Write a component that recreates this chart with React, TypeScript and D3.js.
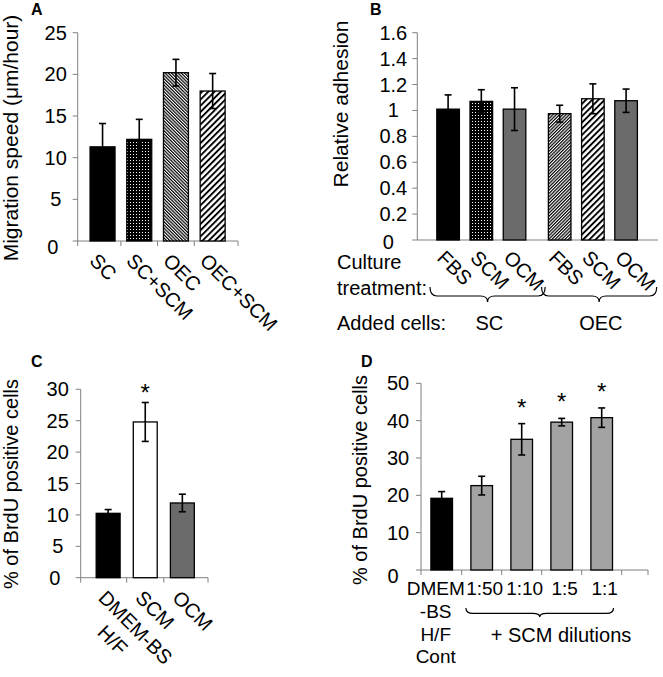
import React from "react";
import * as d3 from "d3";

const FONT = "'Liberation Sans', Arial, Helvetica, sans-serif";

// ---------- Data ----------
// Panel A: migration speed
const aCategories = ["SC", "SC+SCM", "OEC", "OEC+SCM"];
const aValues = [11.3, 12.2, 20.2, 18.0];
const aErrors = [2.8, 2.4, 1.6, 2.1];
const aTicks = [0, 5, 10, 15, 20, 25];

// Panel B: relative adhesion
const bGroups = ["SC", "OEC"];
const bTreatments = ["FBS", "SCM", "OCM"];
const bValuesSC = [1.01, 1.07, 1.01];
const bValuesOEC = [0.975, 1.09, 1.075];
const bErrorsSC = [0.11, 0.09, 0.165];
const bErrorsOEC = [0.065, 0.115, 0.09];
const bTicks = [0, 0.2, 0.4, 0.6, 0.8, 1, 1.2, 1.4, 1.6];

// Panel C: BrdU
const cCategories = ["DMEM-BS H/F", "SCM", "OCM"];
const cLabelLines = [["DMEM-BS", "H/F"], ["SCM"], ["OCM"]];
const cValues = [10.25, 24.8, 11.9];
const cErrors = [0.6, 3.1, 1.4];
const cSignificant = [false, true, false];
const cTicks = [0, 5, 10, 15, 20, 25, 30];

// Panel D: BrdU with SCM dilutions
const dCategories = ["DMEM-BS H/F Cont", "1:50", "1:10", "1:5", "1:1"];
const dLabelLines = [["DMEM", "-BS", "H/F", "Cont"], ["1:50"], ["1:10"], ["1:5"], ["1:1"]];
const dValues = [19.2, 22.6, 35.0, 39.6, 40.8];
const dErrors = [1.8, 2.5, 4.2, 1.0, 2.6];
const dSignificant = [false, false, true, true, true];
const dTicks = [0, 10, 20, 30, 40, 50];

// ---------- helpers ----------
const AXIS = "#808080";
const fmt = (t: number) => String(+t.toFixed(1));

function YAxis({ scale, x, ticks, labelX, zeroDx = 0, zeroDy = 0 }: any) {
  return (
    <g>
      <line x1={x} x2={x} y1={scale(ticks[0])} y2={scale(ticks[ticks.length - 1])} stroke={AXIS} strokeWidth={1} />
      {ticks.map((t: number) => (
        <g key={t}>
          <line x1={x - 5} x2={x} y1={scale(t)} y2={scale(t)} stroke={AXIS} strokeWidth={1} />
          <text
            x={labelX + (t === 0 ? zeroDx : 0)}
            y={scale(t) + (t === 0 ? zeroDy : 0)}
            textAnchor="middle"
            dominantBaseline="central"
            fontSize={20}
            fontFamily={FONT}
          >
            {fmt(t)}
          </text>
        </g>
      ))}
    </g>
  );
}

function ErrorBar({ cx, y, lo, hi }: any) {
  const w = 3.5;
  return (
    <g stroke="black" strokeWidth={1.6}>
      <line x1={cx} x2={cx} y1={y(hi)} y2={y(lo)} />
      <line x1={cx - w} x2={cx + w} y1={y(hi)} y2={y(hi)} />
      <line x1={cx - w} x2={cx + w} y1={y(lo)} y2={y(lo)} />
    </g>
  );
}

function brace(x1: number, x2: number, y: number, h: number) {
  const xm = (x1 + x2) / 2;
  const r = 7;
  const yf = y + h * 0.6;
  const yt = y + h;
  return `M${x1},${y} Q${x1},${yf} ${x1 + r},${yf} L${xm - r},${yf} Q${xm},${yf} ${xm},${yt} Q${xm},${yf} ${xm + r},${yf} L${x2 - r},${yf} Q${x2},${yf} ${x2},${y}`;
}

export default function App() {
  // ----- Panel A -----
  const yA = d3.scaleLinear().domain([0, 25]).range([241, 32.7]);
  const xA = d3.scaleBand().domain(aCategories).range([84.2, 231]).paddingInner(0.32).paddingOuter(0.16);
  const aFills = ["black", "url(#dots)", "url(#hatchDenseBack)", "url(#hatchWide)"];
  const axA0 = 77.7, axA1 = 238;
  const aTickXs = [axA0, ...aCategories.slice(1).map((c) => (xA(c) as number) - xA.step() * 0.16), axA1];

  // ----- Panel B -----
  const yB = d3.scaleLinear().domain([0, 1.6]).range([240, 32.7]);
  const gB = d3.scaleBand().domain(bGroups).range([431.5, 642.7]).paddingInner(0.107);
  const iB = d3.scaleBand().domain(bTreatments).range([0, gB.bandwidth()]).paddingInner(0.32).paddingOuter(0.16);
  const bVals = [bValuesSC, bValuesOEC];
  const bErrs = [bErrorsSC, bErrorsOEC];
  const bFills = [
    ["black", "url(#dots)", "#6b6b6b"],
    ["url(#hatchDenseFwd)", "url(#hatchWide)", "#6b6b6b"],
  ];
  const axB0 = 417.3, axB1 = 658;

  // ----- Panel C -----
  const yC = d3.scaleLinear().domain([0, 30]).range([577.7, 389.3]);
  const xC = d3.scaleBand().domain(cCategories).range([89.5, 201]).paddingInner(0.355).paddingOuter(0.18);
  const cFills = ["black", "white", "#6b6b6b"];
  const axC0 = 80.7, axC1 = 208;
  const cTickXs = [axC0, ...cCategories.slice(1).map((c) => (xC(c) as number) - xC.step() * 0.1775), axC1];

  // ----- Panel D -----
  const yD = d3.scaleLinear().domain([0, 50]).range([570, 383.3]);
  const xD = d3.scaleBand().domain(dCategories).range([421.7, 621.7]).paddingInner(0.46).paddingOuter(0.23);
  const dFills = ["black", "#a3a3a3", "#a3a3a3", "#a3a3a3", "#a3a3a3"];
  const axD0 = 421, axD1 = 648;
  const dTickXs = [axD0, ...dCategories.slice(1).map((c) => (xD(c) as number) - xD.step() * 0.23), 621.7, axD1];

  return (
    <svg width={663} height={677} style={{ position: "absolute", left: 0, top: 0, background: "white" }} fontFamily={FONT}>
      <defs>
        <pattern id="dots" patternUnits="userSpaceOnUse" width={3} height={3}>
          <rect width={3} height={3} fill="black" />
          <rect x={1} y={1} width={1} height={1} fill="white" />
        </pattern>
        <pattern id="hatchDenseBack" patternUnits="userSpaceOnUse" width={2.3} height={10} patternTransform="rotate(-45)">
          <rect width={2.3} height={10} fill="white" />
          <rect width={1.2} height={10} fill="black" />
        </pattern>
        <pattern id="hatchDenseFwd" patternUnits="userSpaceOnUse" width={2.3} height={10} patternTransform="rotate(45)">
          <rect width={2.3} height={10} fill="white" />
          <rect width={1.2} height={10} fill="black" />
        </pattern>
        <pattern id="hatchWide" patternUnits="userSpaceOnUse" width={4.4} height={10} patternTransform="rotate(45)">
          <rect width={4.4} height={10} fill="white" />
          <rect width={1.9} height={10} fill="black" />
        </pattern>
      </defs>

      {/* ================= Panel A ================= */}
      <text x={31} y={15} fontSize={16} fontWeight="bold">A</text>
      <text transform="translate(18,138) rotate(-90)" textAnchor="middle" fontSize={21}>Migration speed (μm/hour)</text>
      <YAxis scale={yA} x={axA0} ticks={aTicks} labelX={axA0 - 22} zeroDx={-3} zeroDy={6} />
      <line x1={axA0} x2={axA1} y1={yA(0)} y2={yA(0)} stroke={AXIS} />
      {aTickXs.map((tx, i) => (
        <line key={i} x1={tx} x2={tx} y1={yA(0)} y2={yA(0) + 5} stroke={AXIS} />
      ))}
      {aCategories.map((c, i) => {
        const x = xA(c) as number;
        const cx = x + xA.bandwidth() / 2;
        return (
          <g key={c}>
            <rect x={x} y={yA(aValues[i])} width={xA.bandwidth()} height={yA(0) - yA(aValues[i])} fill={aFills[i]} stroke="black" strokeWidth={1.3} />
            <ErrorBar cx={cx} y={yA} lo={aValues[i] - aErrors[i]} hi={aValues[i] + aErrors[i]} />
            <text transform={`translate(${cx - 14},${262}) rotate(45)`} fontSize={20}>{c}</text>
          </g>
        );
      })}

      {/* ================= Panel B ================= */}
      <text x={370} y={15} fontSize={16} fontWeight="bold">B</text>
      <text transform="translate(348,104) rotate(-90)" textAnchor="middle" fontSize={21}>Relative adhesion</text>
      <YAxis scale={yB} x={axB0} ticks={bTicks} labelX={axB0 - 24} zeroDx={-5} zeroDy={2} />
      <line x1={axB0} x2={axB1} y1={yB(0)} y2={yB(0)} stroke={AXIS} />
      {bGroups.map((g, gi) => {
        const gx = gB(g) as number;
        return (
          <g key={g}>
            {bTreatments.map((t, ti) => {
              const x = gx + (iB(t) as number);
              const cx = x + iB.bandwidth() / 2;
              const v = bVals[gi][ti];
              const e = bErrs[gi][ti];
              return (
                <g key={t}>
                  <rect x={x} y={yB(v)} width={iB.bandwidth()} height={yB(0) - yB(v)} fill={bFills[gi][ti]} stroke="black" strokeWidth={1.3} />
                  <ErrorBar cx={cx} y={yB} lo={v - e} hi={v + e} />
                  <text transform={`translate(${cx - 12},${259}) rotate(45)`} fontSize={20}>{t}</text>
                </g>
              );
            })}
            <path d={brace(gx - 1.5, gx + gB.bandwidth() + 14, 287, 15)} fill="none" stroke="black" strokeWidth={1.2} />
            <text x={gx + gB.bandwidth() / 2 + 8} y={330} textAnchor="middle" fontSize={20}>{g}</text>
          </g>
        );
      })}
      <text x={337} y={269} fontSize={20}>Culture</text>
      <text x={337} y={295} fontSize={20}>treatment:</text>
      <text x={337} y={330} fontSize={20}>Added cells:</text>

      {/* ================= Panel C ================= */}
      <text x={31} y={367} fontSize={16} fontWeight="bold">C</text>
      <text transform="translate(18,484) rotate(-90)" textAnchor="middle" fontSize={20}>% of BrdU positive cells</text>
      <YAxis scale={yC} x={axC0} ticks={cTicks} labelX={axC0 - 23} zeroDx={-3} zeroDy={0} />
      <line x1={axC0} x2={axC1} y1={yC(0)} y2={yC(0)} stroke={AXIS} />
      {cTickXs.map((tx, i) => (
        <line key={i} x1={tx} x2={tx} y1={yC(0)} y2={yC(0) + 5} stroke={AXIS} />
      ))}
      {cCategories.map((c, i) => {
        const x = xC(c) as number;
        const cx = x + xC.bandwidth() / 2;
        const v = cValues[i];
        const e = cErrors[i];
        const lines = cLabelLines[i];
        return (
          <g key={c}>
            <rect x={x} y={yC(v)} width={xC.bandwidth()} height={yC(0) - yC(v)} fill={cFills[i]} stroke="black" strokeWidth={1.3} />
            <ErrorBar cx={cx} y={yC} lo={v - e} hi={v + e} />
            {cSignificant[i] && (
              <text x={cx} y={yC(v + e) - 1} textAnchor="middle" fontSize={24}>*</text>
            )}
            <g transform={`translate(${cx - 11},${599}) rotate(45)`}>
              {lines.map((ln, li) => (
                <text key={li} x={li === 0 ? 0 : 40} y={li * 25} textAnchor={li === 0 ? "start" : "middle"} fontSize={20}>{ln}</text>
              ))}
            </g>
          </g>
        );
      })}

      {/* ================= Panel D ================= */}
      <text x={361} y={367} fontSize={16} fontWeight="bold">D</text>
      <text transform="translate(366.7,480) rotate(-90)" textAnchor="middle" fontSize={20}>% of BrdU positive cells</text>
      <YAxis scale={yD} x={axD0} ticks={dTicks} labelX={axD0 - 23} zeroDx={-5} zeroDy={6} />
      <line x1={axD0} x2={axD1} y1={yD(0)} y2={yD(0)} stroke={AXIS} />
      {dTickXs.map((tx, i) => (
        <line key={i} x1={tx} x2={tx} y1={yD(0)} y2={yD(0) + 5} stroke={AXIS} />
      ))}
      {dCategories.map((c, i) => {
        const x = xD(c) as number;
        const cx = x + xD.bandwidth() / 2;
        const v = dValues[i];
        const e = dErrors[i];
        return (
          <g key={c}>
            <rect x={x} y={yD(v)} width={xD.bandwidth()} height={yD(0) - yD(v)} fill={dFills[i]} stroke="black" strokeWidth={1.3} />
            <ErrorBar cx={cx} y={yD} lo={v - e} hi={v + e} />
            {dSignificant[i] && (
              <text x={cx} y={yD(v + e) - 8} textAnchor="middle" fontSize={24}>*</text>
            )}
            {dLabelLines[i].map((ln, li) => (
              <text key={li} x={i === 0 ? cx - 6 : cx + 3} y={595 + li * 22.8} textAnchor="middle" fontSize={19}>{ln}</text>
            ))}
          </g>
        );
      })}
      <path
        d={brace((xD(dCategories[1]) as number) - 5, (xD(dCategories[4]) as number) + xD.bandwidth() + 1, 608, 9)}
        fill="none"
        stroke="black"
        strokeWidth={1.2}
      />
      <text x={561} y={641.5} textAnchor="middle" fontSize={20}>+ SCM dilutions</text>
    </svg>
  );
}
